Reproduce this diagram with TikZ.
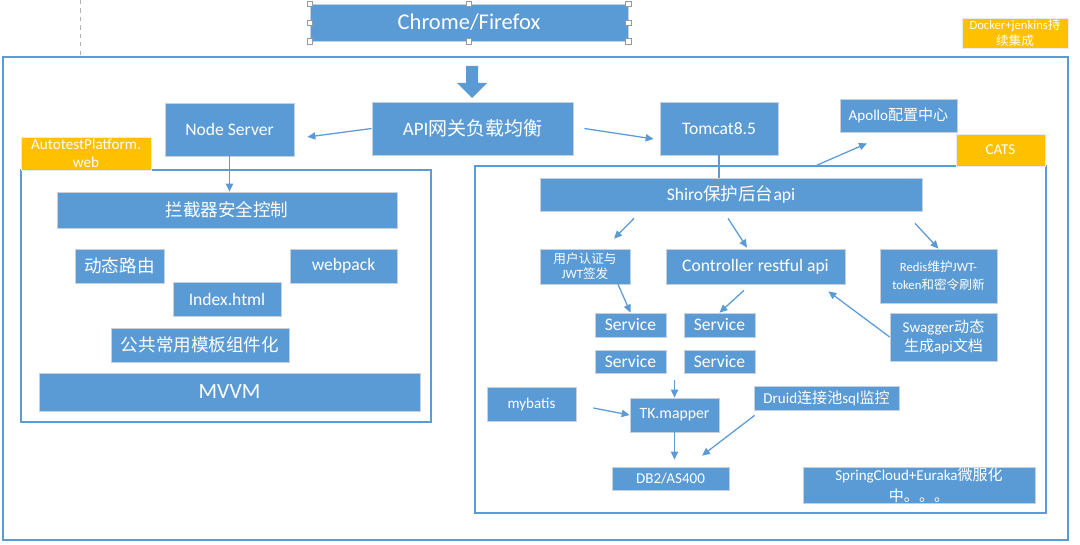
\documentclass[tikz,border=0pt]{standalone}
\usepackage{fontspec}
\setmainfont{Carlito}
\newfontfamily\cjk{Noto Sans CJK SC}
\newcommand{\zh}[1]{{\cjk #1}}
\usetikzlibrary{arrows.meta,calc}
\definecolor{boxblue}{RGB}{91,155,213}
\definecolor{tagorange}{RGB}{255,192,0}
\definecolor{edgegray}{RGB}{200,208,220}

\begin{document}
\begin{tikzpicture}[
				blk/.style={fill=boxblue,draw=edgegray,line width=0.5pt,text=white,align=center,inner sep=0pt,font=\fontsize{12.5}{15}\selectfont},
				tag/.style={fill=tagorange,draw=black!8,line width=0.5pt,text=white,align=center,inner sep=0pt},
				panel/.style={draw=boxblue,line width=1.2pt,inner sep=0pt},
				fA/.style={font=\fontsize{16}{19}\selectfont},
				fC/.style={font=\fontsize{10.7}{14}\selectfont},
				fD/.style={font=\fontsize{9}{11.5}\selectfont},
				arr/.style={->,>={Triangle[length=0.2cm,width=0.18cm]},draw=boxblue,line width=0.9pt},
				handle/.style={fill=white,draw=black!40,line width=0.4pt}
			]
			\useasboundingbox (0,0) rectangle (27,-13.6);
			% frames
			\node[panel,minimum width=26.625cm,minimum height=12.075cm] (outer) at (13.3875,-7.4625) {};
			\node[panel,minimum width=10.25cm,minimum height=6.3cm] (lpanel) at (5.65,-7.4) {};
			\node[panel,minimum width=14.275cm,minimum height=8.675cm] (rpanel) at (19.0125,-8.4875) {};
			\draw[dashed,black!30,line width=0.5pt] (2,0) -- (2,0 |- outer.north);
			% top
			\node[blk,fA,minimum width=7.95cm,minimum height=0.925cm] (chrome) at (11.725,-0.5625) {Chrome/Firefox};
			\foreach \a in {north west,north,north east,west,east,south west,south,south east}
				\filldraw[handle] ($(chrome.\a)+(-0.065,-0.065)$) rectangle ++(0.13,0.13);
			\node[tag,fD,minimum width=2.65cm,minimum height=0.75cm] (docker) at (25.375,-0.825) {Docker+jenkins\zh{持}\\\zh{续集成}};
			\fill[boxblue] (11.65,-1.65) -- (11.95,-1.65) -- (11.95,-2.075) -- (12.175,-2.075) -- (11.8,-2.45) -- (11.425,-2.075) -- (11.65,-2.075) -- cycle;
			\node[blk,minimum width=3.225cm,minimum height=1.325cm] (nodesrv) at (5.7375,-3.2375) {Node Server};
			\node[blk,font=\fontsize{13.5}{16}\selectfont,minimum width=5.025cm,minimum height=1.325cm] (api) at (11.8125,-3.2125) {API\zh{网关负载均衡}};
			\node[blk,minimum width=2.95cm,minimum height=1.325cm] (tomcat) at (17.975,-3.2125) {Tomcat8.5};
			\node[blk,fC,minimum width=2.925cm,minimum height=0.825cm] (apollo) at (22.4625,-2.8875) {Apollo\zh{配置中心}};
			\node[tag,fC,minimum width=2.225cm,minimum height=0.8cm] (cats) at (25.0125,-3.75) {CATS};
			\node[tag,font=\fontsize{10.8}{12.5}\selectfont,minimum width=3.25cm,minimum height=0.825cm] (autotest) at (2.15,-3.8375) {AutotestPlatform.\\web};
			% front end
			\node[blk,minimum width=8.5cm,minimum height=0.9cm] (guard) at (5.675,-5.25) {\zh{拦截器安全控制}};
			\node[blk,minimum width=2.225cm,minimum height=0.85cm] (route) at (2.9875,-6.65) {\zh{动态路由}};
			\node[blk,minimum width=2.675cm,minimum height=0.85cm] (webpack) at (8.5875,-6.65) {webpack};
			\node[blk,minimum width=2.7cm,minimum height=0.85cm] (index) at (5.675,-7.475) {Index.html};
			\node[blk,minimum width=4.45cm,minimum height=0.85cm] (tmpl) at (5,-8.625) {\zh{公共常用模板组件化}};
			\node[blk,font=\fontsize{15.4}{18}\selectfont,minimum width=9.525cm,minimum height=0.95cm] (mvvm) at (5.7375,-9.8) {MVVM};
			% back end
			\node[blk,minimum width=9.55cm,minimum height=0.825cm] (shiro) at (18.275,-4.8625) {Shiro\zh{保护后台}api};
			\node[blk,font=\fontsize{9}{10.7}\selectfont,minimum width=2.25cm,minimum height=0.875cm] (auth) at (14.625,-6.6625) {\zh{用户认证与}\\JWT\zh{签发}};
			\node[blk,minimum width=4.475cm,minimum height=0.875cm] (ctrl) at (18.8875,-6.6625) {Controller restful api};
			\node[blk,font=\fontsize{9}{12.5}\selectfont,minimum width=2.925cm,minimum height=1.35cm] (redis) at (23.4625,-6.9) {Redis\zh{维护}JWT-\\token\zh{和密令刷新}};
			\node[blk,font=\fontsize{10.7}{14}\selectfont,minimum width=2.675cm,minimum height=1.2cm] (swagger) at (23.5875,-8.425) {Swagger\zh{动态}\\\zh{生成}api\zh{文档}};
			\node[blk,minimum width=1.775cm,minimum height=0.6cm] (svca) at (15.7625,-8.125) {Service};
			\node[blk,minimum width=1.775cm,minimum height=0.6cm] (svcb) at (17.9875,-8.125) {Service};
			\node[blk,minimum width=1.775cm,minimum height=0.575cm] (svcc) at (15.7625,-9.0375) {Service};
			\node[blk,minimum width=1.775cm,minimum height=0.575cm] (svcd) at (17.9875,-9.0375) {Service};
			\node[blk,fC,minimum width=2.225cm,minimum height=0.85cm] (mybatis) at (13.2875,-10.1) {mybatis};
			\node[blk,font=\fontsize{11.2}{13}\selectfont,minimum width=2.225cm,minimum height=0.85cm] (tk) at (16.8625,-10.375) {TK.mapper};
			\node[blk,fC,minimum width=3.625cm,minimum height=0.6cm] (druid) at (20.6625,-9.95) {Druid\zh{连接池}sql\zh{监控}};
			\node[blk,fC,minimum width=2.925cm,minimum height=0.575cm] (db) at (16.7625,-11.9625) {DB2/AS400};
			\node[blk,font=\fontsize{10.7}{15}\selectfont,minimum width=5.8cm,minimum height=0.9cm] (spring) at (22.975,-12.125) {SpringCloud+Euraka\zh{微服化}\\\zh{中。。。}};
			% links
			\draw[arr] (api.west) -- ($(nodesrv.east)+(0.325,-0.1875)$);
			\draw[arr] ($(api.east)+(0.275,0)$) -- ($(tomcat.west)+(-0.15,-0.2625)$);
			\draw[arr] (nodesrv.south) -- (nodesrv.south |- guard.north);
			\draw[draw=boxblue,line width=0.9pt] (tomcat.south) -- (tomcat.south |- shiro.north);
			\draw[arr] ($(rpanel.north)+(1.4125,0)$) -- ($(apollo.south)+(-0.7875,-0.275)$);
			\draw[arr] ($(shiro.south)+(-2.425,-0.175)$) -- ($(auth.north)+(0.725,0.25)$);
			\draw[arr] ($(shiro.south)+(-0.075,-0.175)$) -- ($(ctrl.north)+(-0.2125,0.025)$);
			\draw[arr] ($(shiro.south)+(4.6,-0.3)$) -- (redis.north);
			\draw[arr] ($(auth.south)+(0.825,0)$) -- (svca.north);
			\draw[arr] ($(ctrl.south)+(-0.2875,-0.15)$) -- (svcb.north);
			\draw[arr] (swagger.west) -- ($(ctrl.south east)+(-0.425,-0.175)$);
			\draw[arr] ($(tk.north)+(0,0.45)$) -- (tk.north);
			\draw[arr] ($(mybatis.east)+(0.425,-0.1)$) -- (tk.west);
			\draw[arr,shorten >=0.175cm] (tk.south) -- (tk.south |- db.north);
			\draw[arr] ($(druid.south west)+(0.025,-0.125)$) -- ($(db.north)+(0.7875,0.275)$);
			\end{tikzpicture}
\end{document}
